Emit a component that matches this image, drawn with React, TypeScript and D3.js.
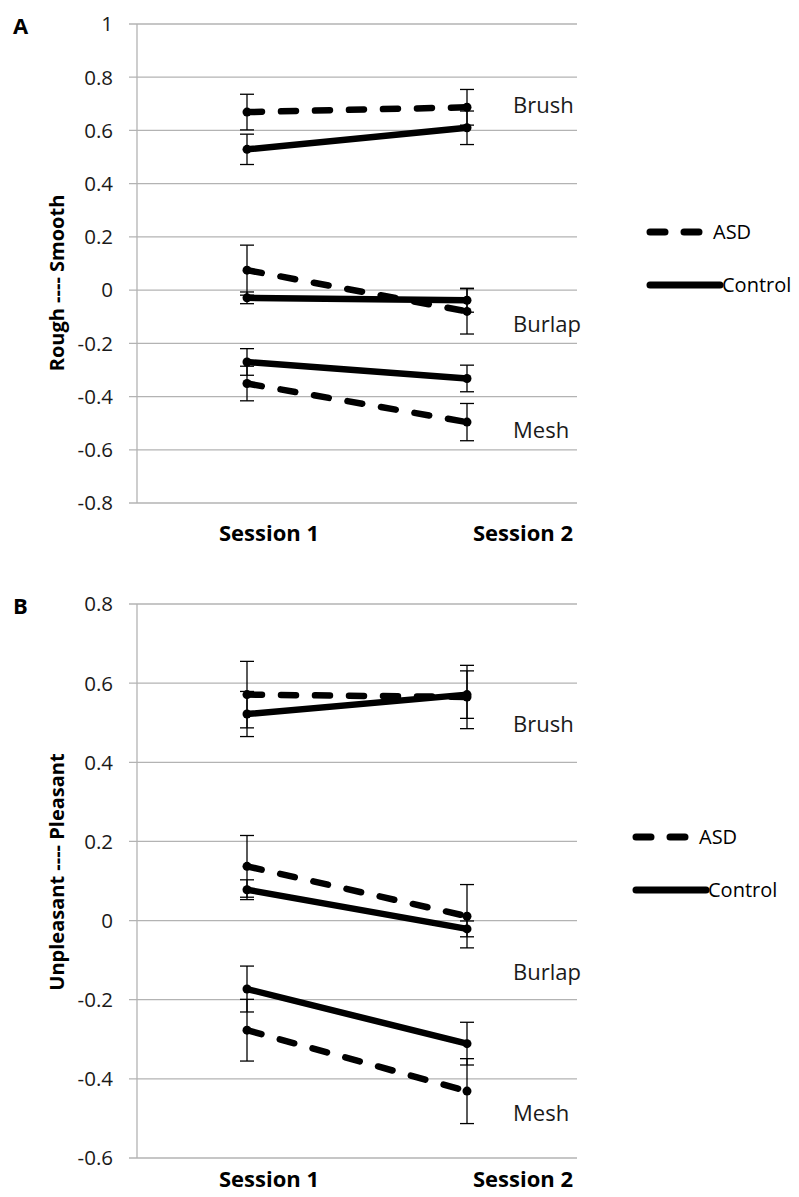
import React from 'react';
import * as d3 from 'd3';

// categories
const sessions = ['Session 1', 'Session 2'];
const textures = ['Brush', 'Burlap', 'Mesh'];
const groups = ['ASD', 'Control'];

// panel A: Rough ---- Smooth (rows = textures, cols = sessions)
const smoothASD = [[0.669, 0.687], [0.075, -0.08], [-0.351, -0.496]];
const smoothASDErr = [[0.067, 0.067], [0.094, 0.085], [0.065, 0.07]];
const smoothCtrl = [[0.529, 0.61], [-0.029, -0.038], [-0.27, -0.332]];
const smoothCtrlErr = [[0.057, 0.063], [0.022, 0.045], [0.05, 0.05]];
const smoothTicks = [1, 0.8, 0.6, 0.4, 0.2, 0, -0.2, -0.4, -0.6, -0.8];
const smoothLabelAt = [0.695, -0.128, -0.525];

// panel B: Unpleasant ---- Pleasant
const pleasantASD = [[0.571, 0.565], [0.137, 0.011], [-0.277, -0.431]];
const pleasantASDErr = [[0.084, 0.08], [0.078, 0.08], [0.078, 0.082]];
const pleasantCtrl = [[0.522, 0.571], [0.078, -0.021], [-0.173, -0.311]];
const pleasantCtrlErr = [[0.057, 0.06], [0.025, 0.02], [0.058, 0.054]];
const pleasantTicks = [0.8, 0.6, 0.4, 0.2, 0, -0.2, -0.4, -0.6];
const pleasantLabelAt = [0.497, -0.131, -0.488];

const FONT = '"Open Sans", sans-serif';
const GRID = '#b3b3b3';

type PanelProps = {
  letter: string;
  title: string;
  titleY: number;
  top: number;
  bottom: number;
  sessionGap: number;
  ticks: number[];
  asd: number[][];
  asdErr: number[][];
  ctrl: number[][];
  ctrlErr: number[][];
  labelAt: number[];
  legendX: number;
  legendY: number;
};

const Panel = ({ letter, title, titleY, top, bottom, sessionGap, ticks, asd, asdErr, ctrl, ctrlErr, labelAt, legendX, legendY }: PanelProps) => {
  const left = 137;
  const right = 577;
  const y = d3.scaleLinear().domain([d3.min(ticks)!, d3.max(ticks)!]).range([bottom, top]);
  const x = d3.scaleBand().domain(sessions).range([left, right]);
  const cx = (s: string) => x(s)! + x.bandwidth() / 2;
  // session labels sit a little right of the categories in the original
  const xLab = d3.scalePoint().domain(sessions).range([269, 523]);
  const line = d3.line<number>().x((_, i) => cx(sessions[i])).y(d => y(d));

  const series = [
    { name: groups[0], vals: asd, err: asdErr, dash: '15 19' },
    { name: groups[1], vals: ctrl, err: ctrlErr, dash: null },
  ];

  return (
    <g>
      <text x={13} y={top + 10} fontFamily={FONT} fontWeight="bold" fontSize={22}>{letter}</text>
      {ticks.map(t => (
        <g key={t}>
          <line x1={left - 8} x2={right} y1={y(t)} y2={y(t)} stroke={GRID} strokeWidth={1.3} />
          <text x={113} y={y(t)} dy="0.36em" textAnchor="end" fontFamily={FONT} fontSize={20.5} fill="#1a1a1a">{String(t)}</text>
        </g>
      ))}
      <line x1={left} x2={left} y1={top} y2={bottom} stroke={GRID} strokeWidth={1.3} />
      <text transform={`translate(57,${titleY}) rotate(-90)`} textAnchor="middle" dy="0.35em"
        fontFamily={FONT} fontWeight="bold" fontSize={20}>{title}</text>
      {sessions.map(s => (
        <text key={s} x={xLab(s)} y={bottom + sessionGap} textAnchor="middle" fontFamily={FONT} fontWeight="bold" fontSize={22}>{s}</text>
      ))}
      {series.map(sr => textures.map((tx, ti) => (
        <g key={sr.name + tx}>
          {sr.vals[ti].map((v, si) => {
            const xx = cx(sessions[si]);
            const e = sr.err[ti][si];
            return (
              <g key={si} stroke="#000" strokeWidth={1.3}>
                <line x1={xx} x2={xx} y1={y(v + e)} y2={y(v - e)} />
                <line x1={xx - 7} x2={xx + 7} y1={y(v + e)} y2={y(v + e)} />
                <line x1={xx - 7} x2={xx + 7} y1={y(v - e)} y2={y(v - e)} />
              </g>
            );
          })}
          <path d={line(sr.vals[ti]) ?? ''} fill="none" stroke="#000" strokeWidth={6.5}
            strokeLinecap="round" strokeDasharray={sr.dash ?? undefined} />
          {sr.vals[ti].map((v, si) => (
            <circle key={si} cx={cx(sessions[si])} cy={y(v)} r={4.5} fill="#000" />
          ))}
        </g>
      )))}
      {textures.map((tx, ti) => (
        <text key={tx} x={513} y={y(labelAt[ti])} dy="0.35em" fontFamily={FONT} fontSize={22} fill="#1a1a1a">{tx}</text>
      ))}
      {series.map((sr, i) => (
        <g key={sr.name}>
          <line x1={legendX} x2={legendX + (sr.dash ? 53 : 70)} y1={legendY + i * 53} y2={legendY + i * 53}
            stroke="#000" strokeWidth={7} strokeLinecap="round" strokeDasharray={sr.dash ? '15 19' : undefined} />
          <text x={legendX + (sr.dash ? 63 : 72)} y={legendY + i * 53} dy="0.35em" fontFamily={FONT} fontSize={20}>{sr.name}</text>
        </g>
      ))}
    </g>
  );
};

const App = () => (
  <svg width={799} height={1197} style={{ position: 'absolute', left: 0, top: 0, background: '#fff' }}>
    <Panel letter="A" title="Rough ---- Smooth" titleY={283} top={24} bottom={503} sessionGap={38} ticks={smoothTicks}
      asd={smoothASD} asdErr={smoothASDErr} ctrl={smoothCtrl} ctrlErr={smoothCtrlErr}
      labelAt={smoothLabelAt} legendX={650} legendY={232} />
    <Panel letter="B" title="Unpleasant ---- Pleasant" titleY={872} top={604} bottom={1158} sessionGap={29} ticks={pleasantTicks}
      asd={pleasantASD} asdErr={pleasantASDErr} ctrl={pleasantCtrl} ctrlErr={pleasantCtrlErr}
      labelAt={pleasantLabelAt} legendX={636} legendY={837} />
  </svg>
);

export default App;
